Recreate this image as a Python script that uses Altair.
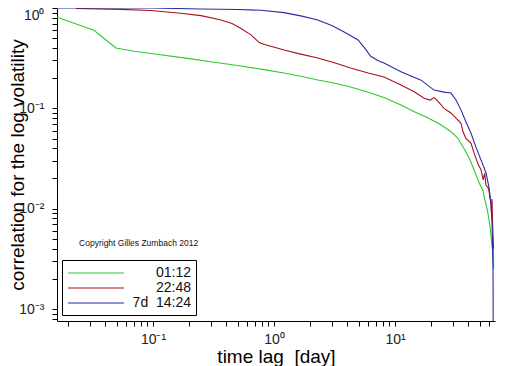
import altair as alt
import pandas as pd

# ---- data (time lag in days, correlation) ----
green_x = [0.0161, 0.0325, 0.0494, 0.07, 0.1, 0.2, 0.3, 0.5, 0.78, 1.21, 1.7, 2.3, 3.2, 4.3, 6,
           8.1, 11.2, 14.3, 18.8, 23.9, 29, 33, 37, 41, 45, 49.6, 53, 56, 58.6, 61, 62.5, 63.5,
           64, 64.5, 65, 65.3]
green_y = [0.81, 0.60, 0.40, 0.37, 0.35, 0.313, 0.291, 0.267, 0.246, 0.225, 0.208, 0.192, 0.178,
           0.163, 0.145, 0.128, 0.108, 0.093, 0.080, 0.0685, 0.0585, 0.0506, 0.040, 0.032, 0.0244,
           0.018, 0.0154, 0.0115, 0.0090, 0.0066, 0.0050, 0.0041, 0.0055, 0.0030, 0.0045, 0.0025]

red_x = [0.023, 0.054, 0.096, 0.17, 0.249, 0.365, 0.45, 0.53, 0.645, 0.76, 0.85, 1.21, 1.7, 2.3,
         3.2, 4.3, 6, 8.1, 11.2, 14.3, 17.4, 19.5, 21.0, 22.6, 25.4, 29, 31.9, 35.1, 36.5, 38.6,
         42.4, 45, 48.4, 51.4, 53.5, 55, 56.5, 58.6, 59.7, 61, 62, 62.8, 63.3, 64, 64.6, 65.2]
red_y = [0.99, 0.97, 0.945, 0.885, 0.84, 0.76, 0.70, 0.627, 0.54, 0.45, 0.43, 0.381, 0.345, 0.318,
         0.283, 0.252, 0.225, 0.205, 0.171, 0.147, 0.126, 0.121, 0.128, 0.118, 0.10, 0.09, 0.08,
         0.071, 0.058, 0.05, 0.045, 0.036, 0.028, 0.0243, 0.0194, 0.0225, 0.017, 0.0163, 0.0152,
         0.0125, 0.0115, 0.0088, 0.0125, 0.0072, 0.0052, 0.0040]

blue_x = [0.0161, 0.096, 0.249, 0.5, 0.78, 1.21, 1.7, 2.3, 3.0, 3.8, 4.95, 5.6, 6.3, 7.2, 8.1,
          11.2, 16.4, 21.0, 25.4, 29.0, 31.9, 35.1, 38.6, 42.4, 46.6, 51.4, 56.5, 59.7, 62, 63.3,
          64.3, 64.6, 64.8]
blue_y = [1.0, 1.0, 0.977, 0.965, 0.95, 0.90, 0.83, 0.76, 0.67, 0.577, 0.48, 0.40, 0.33, 0.30,
          0.283, 0.232, 0.191, 0.152, 0.145, 0.142, 0.121, 0.096, 0.073, 0.0568, 0.0411, 0.0305,
          0.0227, 0.0164, 0.0115, 0.0072, 0.003, 0.0019, 0.0003]

series_names = ["01:12", "22:48", "7d\u00a0 14:24"]
series_colors = ["#2ec82e", "#a8101e", "#2b2ba6"]

x_ticks = [k * 10.0 ** e for e in (-2, -1, 0, 1) for k in range(1, 10)
           if 0.0161 <= k * 10.0 ** e <= 67]
y_ticks = [round(k * 10.0 ** e, 6) for e in (-4, -3, -2, -1) for k in range(1, 10)
           if 7.6e-4 <= k * 10.0 ** e <= 1] + [1.0]

copyright_text = ["Copyright Gilles Zumbach 2012"]
copyright_x = [0.0245]
copyright_y = [0.00454]

rows = []
for name, xs, ys in zip(series_names, [green_x, red_x, blue_x], [green_y, red_y, blue_y]):
    for i, (x, y) in enumerate(zip(xs, ys)):
        rows.append({"lag": x, "corr": y, "series": name, "idx": i})
df = pd.DataFrame(rows)
note = pd.DataFrame({"lag": copyright_x, "corr": copyright_y, "text": copyright_text})

x_label_expr = ("datum.value == 0.01 ? '10\u207b\u00b2' : datum.value == 0.1 ? '10\u207b\u00b9' : "
                "datum.value == 1 ? '10\u2070' : datum.value == 10 ? '10\u00b9' : ''")
y_label_expr = ("datum.value == 1 ? '10\u2070' : datum.value == 0.1 ? '10\u207b\u00b9' : "
                "datum.value == 0.01 ? '10\u207b\u00b2' : datum.value == 0.001 ? '10\u207b\u00b3' : ''")

xscale = alt.Scale(type="log", domain=[0.0161, 67], nice=False)
yscale = alt.Scale(type="log", domain=[7.6e-4, 1], nice=False)

lines = alt.Chart(df).mark_line(clip=True, strokeWidth=1.1).encode(
    x=alt.X("lag:Q", scale=xscale,
            axis=alt.Axis(values=x_ticks, labelExpr=x_label_expr, title="time lag\u00a0 [day]",
                          grid=False, tickSize=5, labelFontSize=14, labelPadding=6,
                          titleFontSize=19, titleFontWeight="normal", titleY=35,
                          titleBaseline="middle",
                          labelFlush=False, labelOverlap=False)),
    y=alt.Y("corr:Q", scale=yscale,
            axis=alt.Axis(values=y_ticks, labelExpr=y_label_expr,
                          title="correlation for the log volatility",
                          grid=False, tickSize=5, labelFontSize=14, labelPadding=8,
                          labelBaseline=alt.condition("datum.value == 1", alt.value("top"), alt.value("middle")),
                          titleFontSize=19, titleFontWeight="normal", titleX=-40,
                          titleBaseline="middle", labelOverlap=False, labelFlush=False)),
    color=alt.Color("series:N", sort=series_names,
                    scale=alt.Scale(domain=series_names, range=series_colors),
                    legend=alt.Legend(title=None, orient="none", legendX=5, legendY=252,
                                      symbolType="M-1,0H7", symbolSize=196, symbolStrokeWidth=1.2,
                                      labelAlign="right", labelOffset=108, labelFontSize=14,
                                      labelFont="Liberation Sans", labelColor="#111",
                                      padding=5, rowPadding=0, strokeColor="black",
                                      fillColor="white", cornerRadius=0)),
    order=alt.Order("idx:Q"),
)

text = alt.Chart(note).mark_text(align="left", baseline="middle", fontSize=8.5,
                                 font="Liberation Sans", color="#111").encode(
    x=alt.X("lag:Q", scale=xscale),
    y=alt.Y("corr:Q", scale=yscale),
    text="text:N",
)

chart = alt.layer(lines, text).properties(
    width=438, height=313,
    autosize=alt.AutoSizeParams(type="none"),
    padding={"left": 49, "top": 0, "right": 9, "bottom": 45},
    background="white",
).configure_view(stroke=None).configure_axis(
    domainColor="black", tickColor="black", labelColor="#222", titleColor="black",
    labelFont="Liberation Sans", titleFont="Liberation Sans",
)

chart.save("out.html", embed_options={"renderer": "svg", "actions": False})
